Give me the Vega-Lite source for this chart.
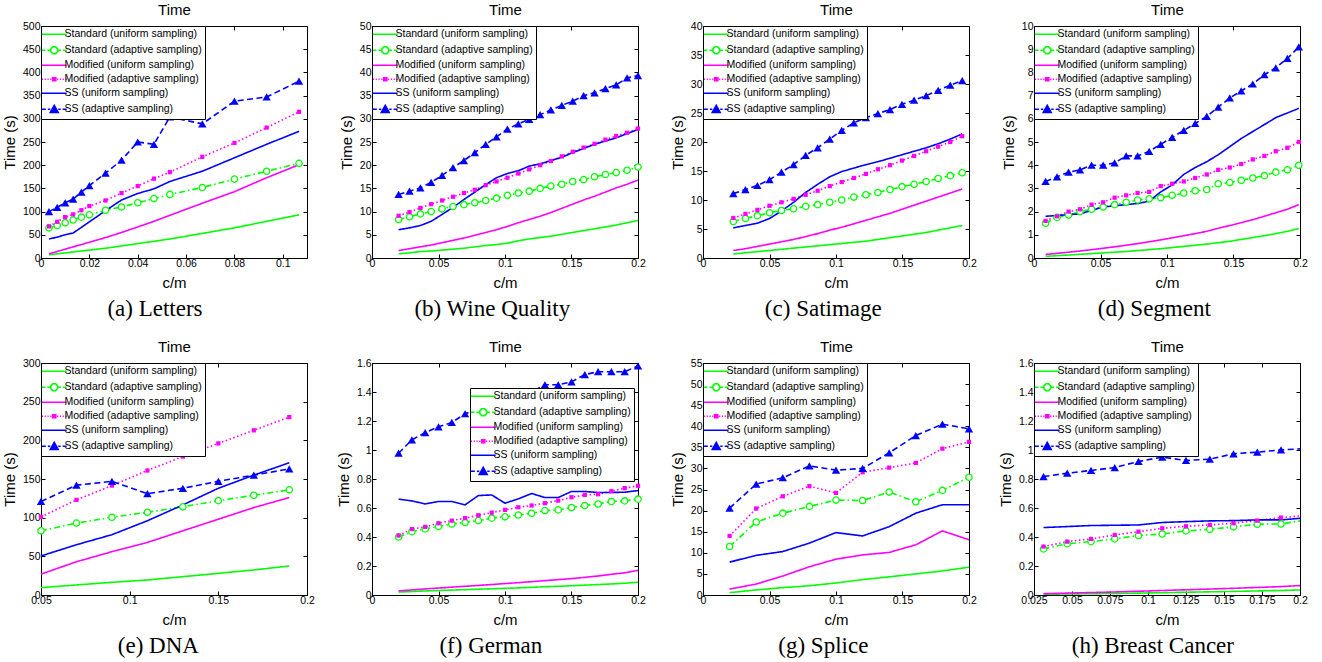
{
"$schema":"https://vega.github.io/schema/vega-lite/v6.json",
"background":"white",
"padding":{"left":1,"top":2,"right":0,"bottom":0},
"columns":4,
"spacing":{"row":105,"column":65},
"bounds":"flush",
"resolve":{"scale":{"color":"independent","shape":"independent","stroke":"independent","strokeDash":"independent"},"legend":{"color":"independent","shape":"independent","stroke":"independent","strokeDash":"independent"}},
"datasets":{
"a":[
{"x":0.0033,"y":7,"s":"SU"},{"x":0.0067,"y":9,"s":"SU"},{"x":0.01,"y":11,"s":"SU"},{"x":0.0133,"y":13,"s":"SU"},{"x":0.0167,"y":15,"s":"SU"},{"x":0.02,"y":17,"s":"SU"},{"x":0.0267,"y":21,"s":"SU"},{"x":0.0333,"y":26,"s":"SU"},{"x":0.04,"y":31,"s":"SU"},{"x":0.0467,"y":36,"s":"SU"},{"x":0.0533,"y":41,"s":"SU"},{"x":0.0667,"y":53,"s":"SU"},{"x":0.08,"y":65,"s":"SU"},{"x":0.0933,"y":79,"s":"SU"},{"x":0.1067,"y":93,"s":"SU"},
{"x":0.0033,"y":65,"s":"SA"},{"x":0.0067,"y":70,"s":"SA"},{"x":0.01,"y":76,"s":"SA"},{"x":0.0133,"y":82,"s":"SA"},{"x":0.0167,"y":88,"s":"SA"},{"x":0.02,"y":93,"s":"SA"},{"x":0.0267,"y":103,"s":"SA"},{"x":0.0333,"y":110,"s":"SA"},{"x":0.04,"y":119,"s":"SA"},{"x":0.0467,"y":128,"s":"SA"},{"x":0.0533,"y":137,"s":"SA"},{"x":0.0667,"y":152,"s":"SA"},{"x":0.08,"y":170,"s":"SA"},{"x":0.0933,"y":187,"s":"SA"},{"x":0.1067,"y":204,"s":"SA"},
{"x":0.0033,"y":9,"s":"MU"},{"x":0.0067,"y":14,"s":"MU"},{"x":0.01,"y":19,"s":"MU"},{"x":0.0133,"y":24,"s":"MU"},{"x":0.0167,"y":29,"s":"MU"},{"x":0.02,"y":34,"s":"MU"},{"x":0.0267,"y":44,"s":"MU"},{"x":0.0333,"y":55,"s":"MU"},{"x":0.04,"y":67,"s":"MU"},{"x":0.0467,"y":79,"s":"MU"},{"x":0.0533,"y":92,"s":"MU"},{"x":0.0667,"y":118,"s":"MU"},{"x":0.08,"y":143,"s":"MU"},{"x":0.0933,"y":173,"s":"MU"},{"x":0.1067,"y":201,"s":"MU"},
{"x":0.0033,"y":68,"s":"MA"},{"x":0.0067,"y":78,"s":"MA"},{"x":0.01,"y":88,"s":"MA"},{"x":0.0133,"y":94,"s":"MA"},{"x":0.0167,"y":103,"s":"MA"},{"x":0.02,"y":112,"s":"MA"},{"x":0.0267,"y":124,"s":"MA"},{"x":0.0333,"y":140,"s":"MA"},{"x":0.04,"y":155,"s":"MA"},{"x":0.0467,"y":171,"s":"MA"},{"x":0.0533,"y":185,"s":"MA"},{"x":0.0667,"y":218,"s":"MA"},{"x":0.08,"y":248,"s":"MA"},{"x":0.0933,"y":281,"s":"MA"},{"x":0.1067,"y":315,"s":"MA"},
{"x":0.0033,"y":41,"s":"SSU"},{"x":0.0067,"y":45,"s":"SSU"},{"x":0.01,"y":50,"s":"SSU"},{"x":0.0133,"y":54,"s":"SSU"},{"x":0.0167,"y":66,"s":"SSU"},{"x":0.02,"y":78,"s":"SSU"},{"x":0.0267,"y":102,"s":"SSU"},{"x":0.0333,"y":125,"s":"SSU"},{"x":0.04,"y":139,"s":"SSU"},{"x":0.0467,"y":149,"s":"SSU"},{"x":0.0533,"y":165,"s":"SSU"},{"x":0.0667,"y":187,"s":"SSU"},{"x":0.08,"y":216,"s":"SSU"},{"x":0.0933,"y":245,"s":"SSU"},{"x":0.1067,"y":273,"s":"SSU"},
{"x":0.0033,"y":100,"s":"SSA"},{"x":0.0067,"y":109,"s":"SSA"},{"x":0.01,"y":119,"s":"SSA"},{"x":0.0133,"y":127,"s":"SSA"},{"x":0.0167,"y":142,"s":"SSA"},{"x":0.02,"y":156,"s":"SSA"},{"x":0.0267,"y":183,"s":"SSA"},{"x":0.0333,"y":211,"s":"SSA"},{"x":0.04,"y":250,"s":"SSA"},{"x":0.0467,"y":245,"s":"SSA"},{"x":0.0533,"y":304,"s":"SSA"},{"x":0.0667,"y":289,"s":"SSA"},{"x":0.08,"y":338,"s":"SSA"},{"x":0.0933,"y":347,"s":"SSA"},{"x":0.1067,"y":381,"s":"SSA"}
],
"b":[
{"x":0.02,"y":0.9,"s":"SU"},{"x":0.0282,"y":1.1,"s":"SU"},{"x":0.0364,"y":1.4,"s":"SU"},{"x":0.0445,"y":1.5,"s":"SU"},{"x":0.0527,"y":1.7,"s":"SU"},{"x":0.0609,"y":1.9,"s":"SU"},{"x":0.0691,"y":2.1,"s":"SU"},{"x":0.0773,"y":2.4,"s":"SU"},{"x":0.0855,"y":2.7,"s":"SU"},{"x":0.0936,"y":2.9,"s":"SU"},{"x":0.1018,"y":3.2,"s":"SU"},{"x":0.11,"y":3.7,"s":"SU"},{"x":0.1182,"y":4.1,"s":"SU"},{"x":0.1264,"y":4.4,"s":"SU"},{"x":0.1345,"y":4.7,"s":"SU"},{"x":0.1427,"y":5.1,"s":"SU"},{"x":0.1509,"y":5.5,"s":"SU"},{"x":0.1591,"y":5.9,"s":"SU"},{"x":0.1673,"y":6.3,"s":"SU"},{"x":0.1755,"y":6.7,"s":"SU"},{"x":0.1836,"y":7.1,"s":"SU"},{"x":0.1918,"y":7.6,"s":"SU"},{"x":0.2,"y":8.1,"s":"SU"},
{"x":0.02,"y":8.3,"s":"SA"},{"x":0.0282,"y":8.9,"s":"SA"},{"x":0.0364,"y":9.5,"s":"SA"},{"x":0.0445,"y":10.0,"s":"SA"},{"x":0.0527,"y":10.6,"s":"SA"},{"x":0.0609,"y":11.1,"s":"SA"},{"x":0.0691,"y":11.5,"s":"SA"},{"x":0.0773,"y":11.9,"s":"SA"},{"x":0.0855,"y":12.4,"s":"SA"},{"x":0.0936,"y":12.9,"s":"SA"},{"x":0.1018,"y":13.5,"s":"SA"},{"x":0.11,"y":14.0,"s":"SA"},{"x":0.1182,"y":14.4,"s":"SA"},{"x":0.1264,"y":15.0,"s":"SA"},{"x":0.1345,"y":15.5,"s":"SA"},{"x":0.1427,"y":15.9,"s":"SA"},{"x":0.1509,"y":16.5,"s":"SA"},{"x":0.1591,"y":16.9,"s":"SA"},{"x":0.1673,"y":17.5,"s":"SA"},{"x":0.1755,"y":18.0,"s":"SA"},{"x":0.1836,"y":18.4,"s":"SA"},{"x":0.1918,"y":18.9,"s":"SA"},{"x":0.2,"y":19.6,"s":"SA"},
{"x":0.02,"y":1.6,"s":"MU"},{"x":0.0282,"y":2.0,"s":"MU"},{"x":0.0364,"y":2.4,"s":"MU"},{"x":0.0445,"y":2.8,"s":"MU"},{"x":0.0527,"y":3.3,"s":"MU"},{"x":0.0609,"y":3.8,"s":"MU"},{"x":0.0691,"y":4.3,"s":"MU"},{"x":0.0773,"y":4.9,"s":"MU"},{"x":0.0855,"y":5.5,"s":"MU"},{"x":0.0936,"y":6.1,"s":"MU"},{"x":0.1018,"y":6.8,"s":"MU"},{"x":0.11,"y":7.6,"s":"MU"},{"x":0.1182,"y":8.3,"s":"MU"},{"x":0.1264,"y":9.0,"s":"MU"},{"x":0.1345,"y":9.8,"s":"MU"},{"x":0.1427,"y":10.7,"s":"MU"},{"x":0.1509,"y":11.6,"s":"MU"},{"x":0.1591,"y":12.5,"s":"MU"},{"x":0.1673,"y":13.3,"s":"MU"},{"x":0.1755,"y":14.2,"s":"MU"},{"x":0.1836,"y":15.1,"s":"MU"},{"x":0.1918,"y":15.9,"s":"MU"},{"x":0.2,"y":16.8,"s":"MU"},
{"x":0.02,"y":9.1,"s":"MA"},{"x":0.0282,"y":9.9,"s":"MA"},{"x":0.0364,"y":10.8,"s":"MA"},{"x":0.0445,"y":11.6,"s":"MA"},{"x":0.0527,"y":12.4,"s":"MA"},{"x":0.0609,"y":13.2,"s":"MA"},{"x":0.0691,"y":14.0,"s":"MA"},{"x":0.0773,"y":14.7,"s":"MA"},{"x":0.0855,"y":15.7,"s":"MA"},{"x":0.0936,"y":16.5,"s":"MA"},{"x":0.1018,"y":17.3,"s":"MA"},{"x":0.11,"y":18.2,"s":"MA"},{"x":0.1182,"y":19.1,"s":"MA"},{"x":0.1264,"y":20.0,"s":"MA"},{"x":0.1345,"y":20.9,"s":"MA"},{"x":0.1427,"y":21.9,"s":"MA"},{"x":0.1509,"y":22.9,"s":"MA"},{"x":0.1591,"y":23.8,"s":"MA"},{"x":0.1673,"y":24.6,"s":"MA"},{"x":0.1755,"y":25.5,"s":"MA"},{"x":0.1836,"y":26.3,"s":"MA"},{"x":0.1918,"y":27.0,"s":"MA"},{"x":0.2,"y":27.9,"s":"MA"},
{"x":0.02,"y":6.1,"s":"SSU"},{"x":0.0282,"y":6.5,"s":"SSU"},{"x":0.0364,"y":7.0,"s":"SSU"},{"x":0.0445,"y":7.9,"s":"SSU"},{"x":0.0527,"y":9.4,"s":"SSU"},{"x":0.0609,"y":10.9,"s":"SSU"},{"x":0.0691,"y":12.6,"s":"SSU"},{"x":0.0773,"y":14.2,"s":"SSU"},{"x":0.0855,"y":15.8,"s":"SSU"},{"x":0.0936,"y":17.3,"s":"SSU"},{"x":0.1018,"y":18.2,"s":"SSU"},{"x":0.11,"y":18.8,"s":"SSU"},{"x":0.1182,"y":19.8,"s":"SSU"},{"x":0.1264,"y":20.3,"s":"SSU"},{"x":0.1345,"y":21.0,"s":"SSU"},{"x":0.1427,"y":21.7,"s":"SSU"},{"x":0.1509,"y":22.7,"s":"SSU"},{"x":0.1591,"y":23.6,"s":"SSU"},{"x":0.1673,"y":24.5,"s":"SSU"},{"x":0.1755,"y":25.2,"s":"SSU"},{"x":0.1836,"y":25.9,"s":"SSU"},{"x":0.1918,"y":26.8,"s":"SSU"},{"x":0.2,"y":27.7,"s":"SSU"},
{"x":0.02,"y":13.7,"s":"SSA"},{"x":0.0282,"y":14.4,"s":"SSA"},{"x":0.0364,"y":15.1,"s":"SSA"},{"x":0.0445,"y":16.3,"s":"SSA"},{"x":0.0527,"y":17.8,"s":"SSA"},{"x":0.0609,"y":19.5,"s":"SSA"},{"x":0.0691,"y":21.0,"s":"SSA"},{"x":0.0773,"y":22.7,"s":"SSA"},{"x":0.0855,"y":24.5,"s":"SSA"},{"x":0.0936,"y":26.1,"s":"SSA"},{"x":0.1018,"y":27.8,"s":"SSA"},{"x":0.11,"y":28.9,"s":"SSA"},{"x":0.1182,"y":29.9,"s":"SSA"},{"x":0.1264,"y":30.9,"s":"SSA"},{"x":0.1345,"y":31.9,"s":"SSA"},{"x":0.1427,"y":32.9,"s":"SSA"},{"x":0.1509,"y":33.8,"s":"SSA"},{"x":0.1591,"y":35.0,"s":"SSA"},{"x":0.1673,"y":35.6,"s":"SSA"},{"x":0.1755,"y":36.5,"s":"SSA"},{"x":0.1836,"y":37.3,"s":"SSA"},{"x":0.1918,"y":38.8,"s":"SSA"},{"x":0.2,"y":39.3,"s":"SSA"}
],
"c":[
{"x":0.0228,"y":0.7,"s":"SU"},{"x":0.0319,"y":0.9,"s":"SU"},{"x":0.0409,"y":1.1,"s":"SU"},{"x":0.05,"y":1.3,"s":"SU"},{"x":0.059,"y":1.5,"s":"SU"},{"x":0.0681,"y":1.7,"s":"SU"},{"x":0.0772,"y":1.9,"s":"SU"},{"x":0.0862,"y":2.1,"s":"SU"},{"x":0.0953,"y":2.3,"s":"SU"},{"x":0.1043,"y":2.5,"s":"SU"},{"x":0.1134,"y":2.7,"s":"SU"},{"x":0.1225,"y":2.9,"s":"SU"},{"x":0.1315,"y":3.2,"s":"SU"},{"x":0.1406,"y":3.5,"s":"SU"},{"x":0.1496,"y":3.8,"s":"SU"},{"x":0.1587,"y":4.1,"s":"SU"},{"x":0.1678,"y":4.4,"s":"SU"},{"x":0.1768,"y":4.8,"s":"SU"},{"x":0.1859,"y":5.2,"s":"SU"},{"x":0.1949,"y":5.6,"s":"SU"},
{"x":0.0228,"y":6.3,"s":"SA"},{"x":0.0319,"y":6.8,"s":"SA"},{"x":0.0409,"y":7.3,"s":"SA"},{"x":0.05,"y":7.8,"s":"SA"},{"x":0.059,"y":8.2,"s":"SA"},{"x":0.0681,"y":8.5,"s":"SA"},{"x":0.0772,"y":8.9,"s":"SA"},{"x":0.0862,"y":9.2,"s":"SA"},{"x":0.0953,"y":9.6,"s":"SA"},{"x":0.1043,"y":10.0,"s":"SA"},{"x":0.1134,"y":10.5,"s":"SA"},{"x":0.1225,"y":10.9,"s":"SA"},{"x":0.1315,"y":11.3,"s":"SA"},{"x":0.1406,"y":11.8,"s":"SA"},{"x":0.1496,"y":12.3,"s":"SA"},{"x":0.1587,"y":12.7,"s":"SA"},{"x":0.1678,"y":13.2,"s":"SA"},{"x":0.1768,"y":13.7,"s":"SA"},{"x":0.1859,"y":14.2,"s":"SA"},{"x":0.1949,"y":14.7,"s":"SA"},
{"x":0.0228,"y":1.3,"s":"MU"},{"x":0.0319,"y":1.6,"s":"MU"},{"x":0.0409,"y":2.0,"s":"MU"},{"x":0.05,"y":2.4,"s":"MU"},{"x":0.059,"y":2.8,"s":"MU"},{"x":0.0681,"y":3.2,"s":"MU"},{"x":0.0772,"y":3.7,"s":"MU"},{"x":0.0862,"y":4.2,"s":"MU"},{"x":0.0953,"y":4.8,"s":"MU"},{"x":0.1043,"y":5.3,"s":"MU"},{"x":0.1134,"y":5.9,"s":"MU"},{"x":0.1225,"y":6.5,"s":"MU"},{"x":0.1315,"y":7.1,"s":"MU"},{"x":0.1406,"y":7.7,"s":"MU"},{"x":0.1496,"y":8.4,"s":"MU"},{"x":0.1587,"y":9.1,"s":"MU"},{"x":0.1678,"y":9.8,"s":"MU"},{"x":0.1768,"y":10.5,"s":"MU"},{"x":0.1859,"y":11.2,"s":"MU"},{"x":0.1949,"y":11.9,"s":"MU"},
{"x":0.0228,"y":6.9,"s":"MA"},{"x":0.0319,"y":7.6,"s":"MA"},{"x":0.0409,"y":8.3,"s":"MA"},{"x":0.05,"y":9.0,"s":"MA"},{"x":0.059,"y":9.6,"s":"MA"},{"x":0.0681,"y":10.2,"s":"MA"},{"x":0.0772,"y":10.9,"s":"MA"},{"x":0.0862,"y":11.6,"s":"MA"},{"x":0.0953,"y":12.4,"s":"MA"},{"x":0.1043,"y":13.1,"s":"MA"},{"x":0.1134,"y":13.8,"s":"MA"},{"x":0.1225,"y":14.5,"s":"MA"},{"x":0.1315,"y":15.3,"s":"MA"},{"x":0.1406,"y":16.0,"s":"MA"},{"x":0.1496,"y":16.8,"s":"MA"},{"x":0.1587,"y":17.6,"s":"MA"},{"x":0.1678,"y":18.4,"s":"MA"},{"x":0.1768,"y":19.2,"s":"MA"},{"x":0.1859,"y":20.0,"s":"MA"},{"x":0.1949,"y":21.0,"s":"MA"},
{"x":0.0228,"y":5.2,"s":"SSU"},{"x":0.0319,"y":5.6,"s":"SSU"},{"x":0.0409,"y":6.0,"s":"SSU"},{"x":0.05,"y":6.8,"s":"SSU"},{"x":0.059,"y":8.1,"s":"SSU"},{"x":0.0681,"y":9.6,"s":"SSU"},{"x":0.0772,"y":11.3,"s":"SSU"},{"x":0.0862,"y":12.7,"s":"SSU"},{"x":0.0953,"y":14.0,"s":"SSU"},{"x":0.1043,"y":14.9,"s":"SSU"},{"x":0.1134,"y":15.5,"s":"SSU"},{"x":0.1225,"y":16.1,"s":"SSU"},{"x":0.1315,"y":16.6,"s":"SSU"},{"x":0.1406,"y":17.2,"s":"SSU"},{"x":0.1496,"y":17.8,"s":"SSU"},{"x":0.1587,"y":18.4,"s":"SSU"},{"x":0.1678,"y":19.0,"s":"SSU"},{"x":0.1768,"y":19.7,"s":"SSU"},{"x":0.1859,"y":20.5,"s":"SSU"},{"x":0.1949,"y":21.4,"s":"SSU"},
{"x":0.0228,"y":11.1,"s":"SSA"},{"x":0.0319,"y":11.8,"s":"SSA"},{"x":0.0409,"y":12.5,"s":"SSA"},{"x":0.05,"y":13.5,"s":"SSA"},{"x":0.059,"y":14.8,"s":"SSA"},{"x":0.0681,"y":16.1,"s":"SSA"},{"x":0.0772,"y":17.7,"s":"SSA"},{"x":0.0862,"y":19.0,"s":"SSA"},{"x":0.0953,"y":20.5,"s":"SSA"},{"x":0.1043,"y":22.0,"s":"SSA"},{"x":0.1134,"y":23.3,"s":"SSA"},{"x":0.1225,"y":24.2,"s":"SSA"},{"x":0.1315,"y":24.9,"s":"SSA"},{"x":0.1406,"y":25.6,"s":"SSA"},{"x":0.1496,"y":26.5,"s":"SSA"},{"x":0.1587,"y":27.2,"s":"SSA"},{"x":0.1678,"y":28.0,"s":"SSA"},{"x":0.1768,"y":28.9,"s":"SSA"},{"x":0.1859,"y":29.8,"s":"SSA"},{"x":0.1949,"y":30.6,"s":"SSA"}
],
"d":[
{"x":0.0087,"y":0.07,"s":"SU"},{"x":0.0173,"y":0.1,"s":"SU"},{"x":0.026,"y":0.13,"s":"SU"},{"x":0.0346,"y":0.16,"s":"SU"},{"x":0.0433,"y":0.19,"s":"SU"},{"x":0.052,"y":0.22,"s":"SU"},{"x":0.0606,"y":0.25,"s":"SU"},{"x":0.0693,"y":0.28,"s":"SU"},{"x":0.0779,"y":0.32,"s":"SU"},{"x":0.0866,"y":0.36,"s":"SU"},{"x":0.0953,"y":0.4,"s":"SU"},{"x":0.1039,"y":0.45,"s":"SU"},{"x":0.1126,"y":0.5,"s":"SU"},{"x":0.1212,"y":0.55,"s":"SU"},{"x":0.1299,"y":0.6,"s":"SU"},{"x":0.1385,"y":0.66,"s":"SU"},{"x":0.1472,"y":0.72,"s":"SU"},{"x":0.1558,"y":0.8,"s":"SU"},{"x":0.1645,"y":0.88,"s":"SU"},{"x":0.1732,"y":0.96,"s":"SU"},{"x":0.1818,"y":1.05,"s":"SU"},{"x":0.1905,"y":1.15,"s":"SU"},{"x":0.1991,"y":1.27,"s":"SU"},
{"x":0.0087,"y":1.5,"s":"SA"},{"x":0.0173,"y":1.75,"s":"SA"},{"x":0.026,"y":1.85,"s":"SA"},{"x":0.0346,"y":2.0,"s":"SA"},{"x":0.0433,"y":2.1,"s":"SA"},{"x":0.052,"y":2.2,"s":"SA"},{"x":0.0606,"y":2.3,"s":"SA"},{"x":0.0693,"y":2.4,"s":"SA"},{"x":0.0779,"y":2.5,"s":"SA"},{"x":0.0866,"y":2.55,"s":"SA"},{"x":0.0953,"y":2.6,"s":"SA"},{"x":0.1039,"y":2.7,"s":"SA"},{"x":0.1126,"y":2.8,"s":"SA"},{"x":0.1212,"y":2.9,"s":"SA"},{"x":0.1299,"y":2.95,"s":"SA"},{"x":0.1385,"y":3.2,"s":"SA"},{"x":0.1472,"y":3.25,"s":"SA"},{"x":0.1558,"y":3.35,"s":"SA"},{"x":0.1645,"y":3.45,"s":"SA"},{"x":0.1732,"y":3.55,"s":"SA"},{"x":0.1818,"y":3.7,"s":"SA"},{"x":0.1905,"y":3.8,"s":"SA"},{"x":0.1991,"y":4.0,"s":"SA"},
{"x":0.0087,"y":0.15,"s":"MU"},{"x":0.0173,"y":0.2,"s":"MU"},{"x":0.026,"y":0.25,"s":"MU"},{"x":0.0346,"y":0.3,"s":"MU"},{"x":0.0433,"y":0.36,"s":"MU"},{"x":0.052,"y":0.42,"s":"MU"},{"x":0.0606,"y":0.48,"s":"MU"},{"x":0.0693,"y":0.55,"s":"MU"},{"x":0.0779,"y":0.62,"s":"MU"},{"x":0.0866,"y":0.7,"s":"MU"},{"x":0.0953,"y":0.78,"s":"MU"},{"x":0.1039,"y":0.87,"s":"MU"},{"x":0.1126,"y":0.96,"s":"MU"},{"x":0.1212,"y":1.05,"s":"MU"},{"x":0.1299,"y":1.15,"s":"MU"},{"x":0.1385,"y":1.28,"s":"MU"},{"x":0.1472,"y":1.4,"s":"MU"},{"x":0.1558,"y":1.52,"s":"MU"},{"x":0.1645,"y":1.65,"s":"MU"},{"x":0.1732,"y":1.8,"s":"MU"},{"x":0.1818,"y":1.95,"s":"MU"},{"x":0.1905,"y":2.1,"s":"MU"},{"x":0.1991,"y":2.3,"s":"MU"},
{"x":0.0087,"y":1.6,"s":"MA"},{"x":0.0173,"y":1.8,"s":"MA"},{"x":0.026,"y":2.0,"s":"MA"},{"x":0.0346,"y":2.1,"s":"MA"},{"x":0.0433,"y":2.3,"s":"MA"},{"x":0.052,"y":2.4,"s":"MA"},{"x":0.0606,"y":2.6,"s":"MA"},{"x":0.0693,"y":2.7,"s":"MA"},{"x":0.0779,"y":2.8,"s":"MA"},{"x":0.0866,"y":2.85,"s":"MA"},{"x":0.0953,"y":3.1,"s":"MA"},{"x":0.1039,"y":3.2,"s":"MA"},{"x":0.1126,"y":3.3,"s":"MA"},{"x":0.1212,"y":3.45,"s":"MA"},{"x":0.1299,"y":3.6,"s":"MA"},{"x":0.1385,"y":3.8,"s":"MA"},{"x":0.1472,"y":3.9,"s":"MA"},{"x":0.1558,"y":4.05,"s":"MA"},{"x":0.1645,"y":4.25,"s":"MA"},{"x":0.1732,"y":4.4,"s":"MA"},{"x":0.1818,"y":4.6,"s":"MA"},{"x":0.1905,"y":4.75,"s":"MA"},{"x":0.1991,"y":5.0,"s":"MA"},
{"x":0.0087,"y":1.8,"s":"SSU"},{"x":0.0173,"y":1.83,"s":"SSU"},{"x":0.026,"y":1.87,"s":"SSU"},{"x":0.0346,"y":1.9,"s":"SSU"},{"x":0.0433,"y":2.05,"s":"SSU"},{"x":0.052,"y":2.2,"s":"SSU"},{"x":0.0606,"y":2.25,"s":"SSU"},{"x":0.0693,"y":2.3,"s":"SSU"},{"x":0.0779,"y":2.35,"s":"SSU"},{"x":0.0866,"y":2.45,"s":"SSU"},{"x":0.0953,"y":2.85,"s":"SSU"},{"x":0.1039,"y":3.15,"s":"SSU"},{"x":0.1126,"y":3.6,"s":"SSU"},{"x":0.1212,"y":3.9,"s":"SSU"},{"x":0.1299,"y":4.15,"s":"SSU"},{"x":0.1385,"y":4.45,"s":"SSU"},{"x":0.1472,"y":4.8,"s":"SSU"},{"x":0.1558,"y":5.15,"s":"SSU"},{"x":0.1645,"y":5.45,"s":"SSU"},{"x":0.1732,"y":5.75,"s":"SSU"},{"x":0.1818,"y":6.05,"s":"SSU"},{"x":0.1905,"y":6.25,"s":"SSU"},{"x":0.1991,"y":6.45,"s":"SSU"},
{"x":0.0087,"y":3.3,"s":"SSA"},{"x":0.0173,"y":3.5,"s":"SSA"},{"x":0.026,"y":3.7,"s":"SSA"},{"x":0.0346,"y":3.8,"s":"SSA"},{"x":0.0433,"y":4.0,"s":"SSA"},{"x":0.052,"y":4.0,"s":"SSA"},{"x":0.0606,"y":4.1,"s":"SSA"},{"x":0.0693,"y":4.4,"s":"SSA"},{"x":0.0779,"y":4.4,"s":"SSA"},{"x":0.0866,"y":4.6,"s":"SSA"},{"x":0.0953,"y":4.9,"s":"SSA"},{"x":0.1039,"y":5.2,"s":"SSA"},{"x":0.1126,"y":5.5,"s":"SSA"},{"x":0.1212,"y":5.8,"s":"SSA"},{"x":0.1299,"y":6.1,"s":"SSA"},{"x":0.1385,"y":6.5,"s":"SSA"},{"x":0.1472,"y":6.9,"s":"SSA"},{"x":0.1558,"y":7.2,"s":"SSA"},{"x":0.1645,"y":7.5,"s":"SSA"},{"x":0.1732,"y":7.9,"s":"SSA"},{"x":0.1818,"y":8.2,"s":"SSA"},{"x":0.1905,"y":8.6,"s":"SSA"},{"x":0.1991,"y":9.1,"s":"SSA"}
],
"e":[
{"x":0.05,"y":9.5,"s":"SU"},{"x":0.07,"y":13,"s":"SU"},{"x":0.09,"y":16.4,"s":"SU"},{"x":0.11,"y":19.4,"s":"SU"},{"x":0.13,"y":23.7,"s":"SU"},{"x":0.15,"y":28,"s":"SU"},{"x":0.17,"y":32.4,"s":"SU"},{"x":0.19,"y":37.5,"s":"SU"},
{"x":0.05,"y":83,"s":"SA"},{"x":0.07,"y":93,"s":"SA"},{"x":0.09,"y":100.5,"s":"SA"},{"x":0.11,"y":107,"s":"SA"},{"x":0.13,"y":114,"s":"SA"},{"x":0.15,"y":122,"s":"SA"},{"x":0.17,"y":129,"s":"SA"},{"x":0.19,"y":136,"s":"SA"},
{"x":0.05,"y":27,"s":"MU"},{"x":0.07,"y":43,"s":"MU"},{"x":0.09,"y":56,"s":"MU"},{"x":0.11,"y":68,"s":"MU"},{"x":0.13,"y":83,"s":"MU"},{"x":0.15,"y":98,"s":"MU"},{"x":0.17,"y":113,"s":"MU"},{"x":0.19,"y":126,"s":"MU"},
{"x":0.05,"y":101,"s":"MA"},{"x":0.07,"y":123,"s":"MA"},{"x":0.09,"y":141.5,"s":"MA"},{"x":0.11,"y":161,"s":"MA"},{"x":0.13,"y":179,"s":"MA"},{"x":0.15,"y":196,"s":"MA"},{"x":0.17,"y":213,"s":"MA"},{"x":0.19,"y":230,"s":"MA"},
{"x":0.05,"y":50.5,"s":"SSU"},{"x":0.07,"y":65,"s":"SSU"},{"x":0.09,"y":78,"s":"SSU"},{"x":0.11,"y":96,"s":"SSU"},{"x":0.13,"y":116.5,"s":"SSU"},{"x":0.15,"y":138,"s":"SSU"},{"x":0.17,"y":155,"s":"SSU"},{"x":0.19,"y":171,"s":"SSU"},
{"x":0.05,"y":121,"s":"SSA"},{"x":0.07,"y":142,"s":"SSA"},{"x":0.09,"y":147,"s":"SSA"},{"x":0.11,"y":131,"s":"SSA"},{"x":0.13,"y":138,"s":"SSA"},{"x":0.15,"y":147,"s":"SSA"},{"x":0.17,"y":155,"s":"SSA"},{"x":0.19,"y":163,"s":"SSA"}
],
"f":[
{"x":0.02,"y":0.02,"s":"SU"},{"x":0.03,"y":0.024,"s":"SU"},{"x":0.04,"y":0.028,"s":"SU"},{"x":0.05,"y":0.031,"s":"SU"},{"x":0.06,"y":0.034,"s":"SU"},{"x":0.07,"y":0.037,"s":"SU"},{"x":0.08,"y":0.04,"s":"SU"},{"x":0.09,"y":0.043,"s":"SU"},{"x":0.1,"y":0.046,"s":"SU"},{"x":0.11,"y":0.049,"s":"SU"},{"x":0.12,"y":0.053,"s":"SU"},{"x":0.13,"y":0.057,"s":"SU"},{"x":0.14,"y":0.06,"s":"SU"},{"x":0.15,"y":0.064,"s":"SU"},{"x":0.16,"y":0.068,"s":"SU"},{"x":0.17,"y":0.072,"s":"SU"},{"x":0.18,"y":0.076,"s":"SU"},{"x":0.19,"y":0.081,"s":"SU"},{"x":0.2,"y":0.088,"s":"SU"},
{"x":0.02,"y":0.4,"s":"SA"},{"x":0.03,"y":0.437,"s":"SA"},{"x":0.04,"y":0.456,"s":"SA"},{"x":0.05,"y":0.472,"s":"SA"},{"x":0.06,"y":0.49,"s":"SA"},{"x":0.07,"y":0.5,"s":"SA"},{"x":0.08,"y":0.513,"s":"SA"},{"x":0.09,"y":0.53,"s":"SA"},{"x":0.1,"y":0.539,"s":"SA"},{"x":0.11,"y":0.552,"s":"SA"},{"x":0.12,"y":0.564,"s":"SA"},{"x":0.13,"y":0.582,"s":"SA"},{"x":0.14,"y":0.587,"s":"SA"},{"x":0.15,"y":0.603,"s":"SA"},{"x":0.16,"y":0.617,"s":"SA"},{"x":0.17,"y":0.628,"s":"SA"},{"x":0.18,"y":0.645,"s":"SA"},{"x":0.19,"y":0.649,"s":"SA"},{"x":0.2,"y":0.661,"s":"SA"},
{"x":0.02,"y":0.028,"s":"MU"},{"x":0.03,"y":0.035,"s":"MU"},{"x":0.04,"y":0.042,"s":"MU"},{"x":0.05,"y":0.048,"s":"MU"},{"x":0.06,"y":0.054,"s":"MU"},{"x":0.07,"y":0.06,"s":"MU"},{"x":0.08,"y":0.066,"s":"MU"},{"x":0.09,"y":0.072,"s":"MU"},{"x":0.1,"y":0.079,"s":"MU"},{"x":0.11,"y":0.085,"s":"MU"},{"x":0.12,"y":0.092,"s":"MU"},{"x":0.13,"y":0.099,"s":"MU"},{"x":0.14,"y":0.106,"s":"MU"},{"x":0.15,"y":0.113,"s":"MU"},{"x":0.16,"y":0.122,"s":"MU"},{"x":0.17,"y":0.131,"s":"MU"},{"x":0.18,"y":0.143,"s":"MU"},{"x":0.19,"y":0.153,"s":"MU"},{"x":0.2,"y":0.17,"s":"MU"},
{"x":0.02,"y":0.41,"s":"MA"},{"x":0.03,"y":0.455,"s":"MA"},{"x":0.04,"y":0.47,"s":"MA"},{"x":0.05,"y":0.495,"s":"MA"},{"x":0.06,"y":0.513,"s":"MA"},{"x":0.07,"y":0.53,"s":"MA"},{"x":0.08,"y":0.55,"s":"MA"},{"x":0.09,"y":0.568,"s":"MA"},{"x":0.1,"y":0.587,"s":"MA"},{"x":0.11,"y":0.605,"s":"MA"},{"x":0.12,"y":0.617,"s":"MA"},{"x":0.13,"y":0.633,"s":"MA"},{"x":0.14,"y":0.651,"s":"MA"},{"x":0.15,"y":0.674,"s":"MA"},{"x":0.16,"y":0.69,"s":"MA"},{"x":0.17,"y":0.695,"s":"MA"},{"x":0.18,"y":0.716,"s":"MA"},{"x":0.19,"y":0.737,"s":"MA"},{"x":0.2,"y":0.753,"s":"MA"},
{"x":0.02,"y":0.661,"s":"SSU"},{"x":0.03,"y":0.649,"s":"SSU"},{"x":0.04,"y":0.628,"s":"SSU"},{"x":0.05,"y":0.645,"s":"SSU"},{"x":0.06,"y":0.645,"s":"SSU"},{"x":0.07,"y":0.622,"s":"SSU"},{"x":0.08,"y":0.686,"s":"SSU"},{"x":0.09,"y":0.69,"s":"SSU"},{"x":0.1,"y":0.633,"s":"SSU"},{"x":0.11,"y":0.663,"s":"SSU"},{"x":0.12,"y":0.7,"s":"SSU"},{"x":0.13,"y":0.672,"s":"SSU"},{"x":0.14,"y":0.672,"s":"SSU"},{"x":0.15,"y":0.714,"s":"SSU"},{"x":0.16,"y":0.714,"s":"SSU"},{"x":0.17,"y":0.707,"s":"SSU"},{"x":0.18,"y":0.707,"s":"SSU"},{"x":0.19,"y":0.709,"s":"SSU"},{"x":0.2,"y":0.72,"s":"SSU"},
{"x":0.02,"y":0.978,"s":"SSA"},{"x":0.03,"y":1.07,"s":"SSA"},{"x":0.04,"y":1.12,"s":"SSA"},{"x":0.05,"y":1.16,"s":"SSA"},{"x":0.06,"y":1.19,"s":"SSA"},{"x":0.07,"y":1.25,"s":"SSA"},{"x":0.08,"y":1.28,"s":"SSA"},{"x":0.09,"y":1.31,"s":"SSA"},{"x":0.1,"y":1.35,"s":"SSA"},{"x":0.11,"y":1.38,"s":"SSA"},{"x":0.12,"y":1.4,"s":"SSA"},{"x":0.13,"y":1.45,"s":"SSA"},{"x":0.14,"y":1.45,"s":"SSA"},{"x":0.15,"y":1.47,"s":"SSA"},{"x":0.16,"y":1.52,"s":"SSA"},{"x":0.17,"y":1.54,"s":"SSA"},{"x":0.18,"y":1.54,"s":"SSA"},{"x":0.19,"y":1.54,"s":"SSA"},{"x":0.2,"y":1.58,"s":"SSA"}
],
"g":[
{"x":0.02,"y":0.55,"s":"SU"},{"x":0.04,"y":1.2,"s":"SU"},{"x":0.06,"y":1.75,"s":"SU"},{"x":0.08,"y":2.2,"s":"SU"},{"x":0.1,"y":2.85,"s":"SU"},{"x":0.12,"y":3.65,"s":"SU"},{"x":0.14,"y":4.3,"s":"SU"},{"x":0.16,"y":5.0,"s":"SU"},{"x":0.18,"y":5.7,"s":"SU"},{"x":0.2,"y":6.6,"s":"SU"},
{"x":0.02,"y":11.5,"s":"SA"},{"x":0.04,"y":17.3,"s":"SA"},{"x":0.06,"y":19.4,"s":"SA"},{"x":0.08,"y":21.0,"s":"SA"},{"x":0.1,"y":22.5,"s":"SA"},{"x":0.12,"y":22.4,"s":"SA"},{"x":0.14,"y":24.4,"s":"SA"},{"x":0.16,"y":22.1,"s":"SA"},{"x":0.18,"y":24.8,"s":"SA"},{"x":0.2,"y":27.9,"s":"SA"},
{"x":0.02,"y":1.4,"s":"MU"},{"x":0.04,"y":2.6,"s":"MU"},{"x":0.06,"y":4.5,"s":"MU"},{"x":0.08,"y":6.7,"s":"MU"},{"x":0.1,"y":8.5,"s":"MU"},{"x":0.12,"y":9.5,"s":"MU"},{"x":0.14,"y":10.1,"s":"MU"},{"x":0.16,"y":11.9,"s":"MU"},{"x":0.18,"y":15.2,"s":"MU"},{"x":0.2,"y":13.1,"s":"MU"},
{"x":0.02,"y":14.0,"s":"MA"},{"x":0.04,"y":20.5,"s":"MA"},{"x":0.06,"y":23.4,"s":"MA"},{"x":0.08,"y":25.8,"s":"MA"},{"x":0.1,"y":24.2,"s":"MA"},{"x":0.12,"y":29.1,"s":"MA"},{"x":0.14,"y":30.2,"s":"MA"},{"x":0.16,"y":31.3,"s":"MA"},{"x":0.18,"y":34.7,"s":"MA"},{"x":0.2,"y":36.3,"s":"MA"},
{"x":0.02,"y":7.8,"s":"SSU"},{"x":0.04,"y":9.4,"s":"SSU"},{"x":0.06,"y":10.3,"s":"SSU"},{"x":0.08,"y":12.3,"s":"SSU"},{"x":0.1,"y":14.8,"s":"SSU"},{"x":0.12,"y":14.0,"s":"SSU"},{"x":0.14,"y":16.2,"s":"SSU"},{"x":0.16,"y":19.4,"s":"SSU"},{"x":0.18,"y":21.4,"s":"SSU"},{"x":0.2,"y":21.4,"s":"SSU"},
{"x":0.02,"y":20.6,"s":"SSA"},{"x":0.04,"y":26.3,"s":"SSA"},{"x":0.06,"y":27.8,"s":"SSA"},{"x":0.08,"y":30.6,"s":"SSA"},{"x":0.1,"y":29.6,"s":"SSA"},{"x":0.12,"y":30.0,"s":"SSA"},{"x":0.14,"y":33.7,"s":"SSA"},{"x":0.16,"y":37.8,"s":"SSA"},{"x":0.18,"y":40.5,"s":"SSA"},{"x":0.2,"y":39.4,"s":"SSA"}
],
"h":[
{"x":0.03125,"y":0.005,"s":"SU"},{"x":0.046875,"y":0.007,"s":"SU"},{"x":0.0625,"y":0.009,"s":"SU"},{"x":0.078125,"y":0.011,"s":"SU"},{"x":0.09375,"y":0.013,"s":"SU"},{"x":0.109375,"y":0.016,"s":"SU"},{"x":0.125,"y":0.019,"s":"SU"},{"x":0.140625,"y":0.022,"s":"SU"},{"x":0.15625,"y":0.025,"s":"SU"},{"x":0.171875,"y":0.028,"s":"SU"},{"x":0.1875,"y":0.031,"s":"SU"},{"x":0.2,"y":0.035,"s":"SU"},
{"x":0.03125,"y":0.318,"s":"SA"},{"x":0.046875,"y":0.354,"s":"SA"},{"x":0.0625,"y":0.368,"s":"SA"},{"x":0.078125,"y":0.387,"s":"SA"},{"x":0.09375,"y":0.41,"s":"SA"},{"x":0.109375,"y":0.421,"s":"SA"},{"x":0.125,"y":0.442,"s":"SA"},{"x":0.140625,"y":0.453,"s":"SA"},{"x":0.15625,"y":0.47,"s":"SA"},{"x":0.171875,"y":0.488,"s":"SA"},{"x":0.1875,"y":0.49,"s":"SA"},{"x":0.2,"y":0.511,"s":"SA"},
{"x":0.03125,"y":0.009,"s":"MU"},{"x":0.046875,"y":0.013,"s":"MU"},{"x":0.0625,"y":0.017,"s":"MU"},{"x":0.078125,"y":0.021,"s":"MU"},{"x":0.09375,"y":0.026,"s":"MU"},{"x":0.109375,"y":0.031,"s":"MU"},{"x":0.125,"y":0.036,"s":"MU"},{"x":0.140625,"y":0.041,"s":"MU"},{"x":0.15625,"y":0.046,"s":"MU"},{"x":0.171875,"y":0.052,"s":"MU"},{"x":0.1875,"y":0.058,"s":"MU"},{"x":0.2,"y":0.065,"s":"MU"},
{"x":0.03125,"y":0.334,"s":"MA"},{"x":0.046875,"y":0.368,"s":"MA"},{"x":0.0625,"y":0.387,"s":"MA"},{"x":0.078125,"y":0.414,"s":"MA"},{"x":0.09375,"y":0.437,"s":"MA"},{"x":0.109375,"y":0.46,"s":"MA"},{"x":0.125,"y":0.474,"s":"MA"},{"x":0.140625,"y":0.483,"s":"MA"},{"x":0.15625,"y":0.495,"s":"MA"},{"x":0.171875,"y":0.513,"s":"MA"},{"x":0.1875,"y":0.534,"s":"MA"},{"x":0.2,"y":0.545,"s":"MA"},
{"x":0.03125,"y":0.465,"s":"SSU"},{"x":0.046875,"y":0.472,"s":"SSU"},{"x":0.0625,"y":0.479,"s":"SSU"},{"x":0.078125,"y":0.481,"s":"SSU"},{"x":0.09375,"y":0.483,"s":"SSU"},{"x":0.109375,"y":0.5,"s":"SSU"},{"x":0.125,"y":0.506,"s":"SSU"},{"x":0.140625,"y":0.511,"s":"SSU"},{"x":0.15625,"y":0.513,"s":"SSU"},{"x":0.171875,"y":0.518,"s":"SSU"},{"x":0.1875,"y":0.518,"s":"SSU"},{"x":0.2,"y":0.529,"s":"SSU"},
{"x":0.03125,"y":0.817,"s":"SSA"},{"x":0.046875,"y":0.84,"s":"SSA"},{"x":0.0625,"y":0.859,"s":"SSA"},{"x":0.078125,"y":0.879,"s":"SSA"},{"x":0.09375,"y":0.921,"s":"SSA"},{"x":0.109375,"y":0.951,"s":"SSA"},{"x":0.125,"y":0.928,"s":"SSA"},{"x":0.140625,"y":0.937,"s":"SSA"},{"x":0.15625,"y":0.974,"s":"SSA"},{"x":0.171875,"y":0.985,"s":"SSA"},{"x":0.1875,"y":1.001,"s":"SSA"},{"x":0.2,"y":1.008,"s":"SSA"}
]
},
"concat":[
{"data":{"name":"a"},"width":266,"height":232,"title":{"text":"(a) Letters"},
"layer":[
{"mark":{"type":"line","strokeWidth":1.6},"encoding":{
"x":{"field":"x","type":"quantitative","scale":{"domain":[0,0.11],"nice":false,"zero":false},"axis":{"orient":"bottom","title":"c/m","values":[0,0.02,0.04,0.06,0.08,0.1],"format":".4~g"}},
"y":{"field":"y","type":"quantitative","scale":{"domain":[0,500],"nice":false,"zero":false},"axis":{"orient":"left","title":"Time (s)","values":[0,50,100,150,200,250,300,350,400,450,500],"format":".4~g"}},
"stroke":{"field":"s","type":"nominal","scale":{"domain":["SSA","SSU","MA","MU","SA","SU"],"range":["#0000ff","#0000ff","#ff00ff","#ff00ff","#00ff00","#00ff00"]},"legend":null},
"strokeDash":{"field":"s","type":"nominal","scale":{"domain":["SU","MU","SSU","SA","MA","SSA"],"range":[[1,0],[1,0],[1,0],[6,3,1.5,3],[1.5,2.5],[6,3.5]]},"legend":null}}},
{"transform":[{"filter":"datum.s=='SA'"}],"mark":{"type":"point","shape":"circle","size":40,"filled":true,"fill":"white","stroke":"#00ff00","strokeWidth":1.3,"opacity":1},"encoding":{"x":{"field":"x","type":"quantitative","axis":null},"y":{"field":"y","type":"quantitative","axis":null}}},
{"transform":[{"filter":"datum.s=='MA'"}],"mark":{"type":"square","size":18,"color":"#ff00ff","opacity":1},"encoding":{"x":{"field":"x","type":"quantitative","axis":null},"y":{"field":"y","type":"quantitative","axis":null}}},
{"transform":[{"filter":"datum.s=='SSA'"}],"mark":{"type":"point","shape":"triangle-up","size":70,"filled":true,"color":"#0000ff","opacity":1},"encoding":{"x":{"field":"x","type":"quantitative","axis":null},"y":{"field":"y","type":"quantitative","axis":null}}},
{"transform":[{"filter":"datum.x<-1"}],"mark":{"type":"point","opacity":1,"strokeWidth":1.5},"encoding":{
"x":{"field":"x","type":"quantitative","axis":{"orient":"top","labels":false,"domain":false,"title":"Time","values":[0,0.02,0.04,0.06,0.08,0.1]}},
"y":{"field":"y","type":"quantitative","axis":{"orient":"right","labels":false,"domain":false,"title":null,"values":[0,50,100,150,200,250,300,350,400,450,500]}},
"color":{"field":"s","type":"nominal","scale":{"domain":["SU","SA","MU","MA","SSU","SSA"],"range":["#00ff00","#00ff00","#ff00ff","#ff00ff","#0000ff","#0000ff"]},"legend":{"title":null,"symbolOffset":5,"labelOffset":5,"labelExpr":"datum.label=='SU'?'Standard (uniform sampling)':datum.label=='SA'?'Standard (adaptive sampling)':datum.label=='MU'?'Modified (uniform sampling)':datum.label=='MA'?'Modified (adaptive sampling)':datum.label=='SSU'?'SS (uniform sampling)':'SS (adaptive sampling)'"}},
"shape":{"field":"s","type":"nominal","scale":{"domain":["SU","SA","MU","MA","SSU","SSA"],"range":["M-3.1,0H3.1","M-3.1,0H-2.2M-1.7,0H-0.85M-0.85,-0.35L-0.35,-0.85L0.35,-0.85L0.85,-0.35L0.85,0.35L0.35,0.85L-0.35,0.85L-0.85,0.35ZM0.85,0H1.7M2.2,0H3.1","M-3.1,0H3.1","M-3.1,0H-2.8M-2.4,0H-2.1M-1.7,0H-1.4M-1,0H-0.7M-0.4,-0.4H0.4V0.4H-0.4ZM-0.1,-0.1H0.1V0.1H-0.1ZM0.7,0H1M1.4,0H1.7M2.1,0H2.4M2.8,0H3.1","M-3.1,0H3.1","M-3.1,0H-2.1M-1.6,0H-1M-1,0.8L0,-1L1,0.8ZM-0.62,0.5L0,-0.62L0.62,0.5ZM-0.25,0.2L0,-0.25L0.25,0.2ZM1,0H1.6M2.1,0H3.1"]},"legend":{"title":null,"symbolOffset":5,"labelOffset":5,"labelExpr":"datum.label=='SU'?'Standard (uniform sampling)':datum.label=='SA'?'Standard (adaptive sampling)':datum.label=='MU'?'Modified (uniform sampling)':datum.label=='MA'?'Modified (adaptive sampling)':datum.label=='SSU'?'SS (uniform sampling)':'SS (adaptive sampling)'"}}}}
],
"resolve":{"axis":{"x":"independent","y":"independent"}}},

{"data":{"name":"b"},"width":266,"height":232,"title":{"text":"(b) Wine Quality"},
"layer":[
{"mark":{"type":"line","strokeWidth":1.6},"encoding":{
"x":{"field":"x","type":"quantitative","scale":{"domain":[0,0.2],"nice":false,"zero":false},"axis":{"orient":"bottom","title":"c/m","values":[0,0.05,0.1,0.15,0.2],"format":".4~g"}},
"y":{"field":"y","type":"quantitative","scale":{"domain":[0,50],"nice":false,"zero":false},"axis":{"orient":"left","title":"Time (s)","values":[0,5,10,15,20,25,30,35,40,45,50],"format":".4~g"}},
"stroke":{"field":"s","type":"nominal","scale":{"domain":["SSA","SSU","MA","MU","SA","SU"],"range":["#0000ff","#0000ff","#ff00ff","#ff00ff","#00ff00","#00ff00"]},"legend":null},
"strokeDash":{"field":"s","type":"nominal","scale":{"domain":["SU","MU","SSU","SA","MA","SSA"],"range":[[1,0],[1,0],[1,0],[6,3,1.5,3],[1.5,2.5],[6,3.5]]},"legend":null}}},
{"transform":[{"filter":"datum.s=='SA'"}],"mark":{"type":"point","shape":"circle","size":40,"filled":true,"fill":"white","stroke":"#00ff00","strokeWidth":1.3,"opacity":1},"encoding":{"x":{"field":"x","type":"quantitative","axis":null},"y":{"field":"y","type":"quantitative","axis":null}}},
{"transform":[{"filter":"datum.s=='MA'"}],"mark":{"type":"square","size":18,"color":"#ff00ff","opacity":1},"encoding":{"x":{"field":"x","type":"quantitative","axis":null},"y":{"field":"y","type":"quantitative","axis":null}}},
{"transform":[{"filter":"datum.s=='SSA'"}],"mark":{"type":"point","shape":"triangle-up","size":70,"filled":true,"color":"#0000ff","opacity":1},"encoding":{"x":{"field":"x","type":"quantitative","axis":null},"y":{"field":"y","type":"quantitative","axis":null}}},
{"transform":[{"filter":"datum.x<-1"}],"mark":{"type":"point","opacity":1,"strokeWidth":1.5},"encoding":{
"x":{"field":"x","type":"quantitative","axis":{"orient":"top","labels":false,"domain":false,"title":"Time","values":[0,0.05,0.1,0.15,0.2]}},
"y":{"field":"y","type":"quantitative","axis":{"orient":"right","labels":false,"domain":false,"title":null,"values":[0,5,10,15,20,25,30,35,40,45,50]}},
"color":{"field":"s","type":"nominal","scale":{"domain":["SU","SA","MU","MA","SSU","SSA"],"range":["#00ff00","#00ff00","#ff00ff","#ff00ff","#0000ff","#0000ff"]},"legend":{"title":null,"symbolOffset":5,"labelOffset":5,"labelExpr":"datum.label=='SU'?'Standard (uniform sampling)':datum.label=='SA'?'Standard (adaptive sampling)':datum.label=='MU'?'Modified (uniform sampling)':datum.label=='MA'?'Modified (adaptive sampling)':datum.label=='SSU'?'SS (uniform sampling)':'SS (adaptive sampling)'"}},
"shape":{"field":"s","type":"nominal","scale":{"domain":["SU","SA","MU","MA","SSU","SSA"],"range":["M-3.1,0H3.1","M-3.1,0H-2.2M-1.7,0H-0.85M-0.85,-0.35L-0.35,-0.85L0.35,-0.85L0.85,-0.35L0.85,0.35L0.35,0.85L-0.35,0.85L-0.85,0.35ZM0.85,0H1.7M2.2,0H3.1","M-3.1,0H3.1","M-3.1,0H-2.8M-2.4,0H-2.1M-1.7,0H-1.4M-1,0H-0.7M-0.4,-0.4H0.4V0.4H-0.4ZM-0.1,-0.1H0.1V0.1H-0.1ZM0.7,0H1M1.4,0H1.7M2.1,0H2.4M2.8,0H3.1","M-3.1,0H3.1","M-3.1,0H-2.1M-1.6,0H-1M-1,0.8L0,-1L1,0.8ZM-0.62,0.5L0,-0.62L0.62,0.5ZM-0.25,0.2L0,-0.25L0.25,0.2ZM1,0H1.6M2.1,0H3.1"]},"legend":{"title":null,"symbolOffset":5,"labelOffset":5,"labelExpr":"datum.label=='SU'?'Standard (uniform sampling)':datum.label=='SA'?'Standard (adaptive sampling)':datum.label=='MU'?'Modified (uniform sampling)':datum.label=='MA'?'Modified (adaptive sampling)':datum.label=='SSU'?'SS (uniform sampling)':'SS (adaptive sampling)'"}}}}
],
"resolve":{"axis":{"x":"independent","y":"independent"}}},

{"data":{"name":"c"},"width":266,"height":232,"title":{"text":"(c) Satimage"},
"layer":[
{"mark":{"type":"line","strokeWidth":1.6},"encoding":{
"x":{"field":"x","type":"quantitative","scale":{"domain":[0,0.2],"nice":false,"zero":false},"axis":{"orient":"bottom","title":"c/m","values":[0,0.05,0.1,0.15,0.2],"format":".4~g"}},
"y":{"field":"y","type":"quantitative","scale":{"domain":[0,40],"nice":false,"zero":false},"axis":{"orient":"left","title":"Time (s)","values":[0,5,10,15,20,25,30,35,40],"format":".4~g"}},
"stroke":{"field":"s","type":"nominal","scale":{"domain":["SSA","SSU","MA","MU","SA","SU"],"range":["#0000ff","#0000ff","#ff00ff","#ff00ff","#00ff00","#00ff00"]},"legend":null},
"strokeDash":{"field":"s","type":"nominal","scale":{"domain":["SU","MU","SSU","SA","MA","SSA"],"range":[[1,0],[1,0],[1,0],[6,3,1.5,3],[1.5,2.5],[6,3.5]]},"legend":null}}},
{"transform":[{"filter":"datum.s=='SA'"}],"mark":{"type":"point","shape":"circle","size":40,"filled":true,"fill":"white","stroke":"#00ff00","strokeWidth":1.3,"opacity":1},"encoding":{"x":{"field":"x","type":"quantitative","axis":null},"y":{"field":"y","type":"quantitative","axis":null}}},
{"transform":[{"filter":"datum.s=='MA'"}],"mark":{"type":"square","size":18,"color":"#ff00ff","opacity":1},"encoding":{"x":{"field":"x","type":"quantitative","axis":null},"y":{"field":"y","type":"quantitative","axis":null}}},
{"transform":[{"filter":"datum.s=='SSA'"}],"mark":{"type":"point","shape":"triangle-up","size":70,"filled":true,"color":"#0000ff","opacity":1},"encoding":{"x":{"field":"x","type":"quantitative","axis":null},"y":{"field":"y","type":"quantitative","axis":null}}},
{"transform":[{"filter":"datum.x<-1"}],"mark":{"type":"point","opacity":1,"strokeWidth":1.5},"encoding":{
"x":{"field":"x","type":"quantitative","axis":{"orient":"top","labels":false,"domain":false,"title":"Time","values":[0,0.05,0.1,0.15,0.2]}},
"y":{"field":"y","type":"quantitative","axis":{"orient":"right","labels":false,"domain":false,"title":null,"values":[0,5,10,15,20,25,30,35,40]}},
"color":{"field":"s","type":"nominal","scale":{"domain":["SU","SA","MU","MA","SSU","SSA"],"range":["#00ff00","#00ff00","#ff00ff","#ff00ff","#0000ff","#0000ff"]},"legend":{"title":null,"symbolOffset":5,"labelOffset":5,"labelExpr":"datum.label=='SU'?'Standard (uniform sampling)':datum.label=='SA'?'Standard (adaptive sampling)':datum.label=='MU'?'Modified (uniform sampling)':datum.label=='MA'?'Modified (adaptive sampling)':datum.label=='SSU'?'SS (uniform sampling)':'SS (adaptive sampling)'"}},
"shape":{"field":"s","type":"nominal","scale":{"domain":["SU","SA","MU","MA","SSU","SSA"],"range":["M-3.1,0H3.1","M-3.1,0H-2.2M-1.7,0H-0.85M-0.85,-0.35L-0.35,-0.85L0.35,-0.85L0.85,-0.35L0.85,0.35L0.35,0.85L-0.35,0.85L-0.85,0.35ZM0.85,0H1.7M2.2,0H3.1","M-3.1,0H3.1","M-3.1,0H-2.8M-2.4,0H-2.1M-1.7,0H-1.4M-1,0H-0.7M-0.4,-0.4H0.4V0.4H-0.4ZM-0.1,-0.1H0.1V0.1H-0.1ZM0.7,0H1M1.4,0H1.7M2.1,0H2.4M2.8,0H3.1","M-3.1,0H3.1","M-3.1,0H-2.1M-1.6,0H-1M-1,0.8L0,-1L1,0.8ZM-0.62,0.5L0,-0.62L0.62,0.5ZM-0.25,0.2L0,-0.25L0.25,0.2ZM1,0H1.6M2.1,0H3.1"]},"legend":{"title":null,"symbolOffset":5,"labelOffset":5,"labelExpr":"datum.label=='SU'?'Standard (uniform sampling)':datum.label=='SA'?'Standard (adaptive sampling)':datum.label=='MU'?'Modified (uniform sampling)':datum.label=='MA'?'Modified (adaptive sampling)':datum.label=='SSU'?'SS (uniform sampling)':'SS (adaptive sampling)'"}}}}
],
"resolve":{"axis":{"x":"independent","y":"independent"}}},

{"data":{"name":"d"},"width":266,"height":232,"title":{"text":"(d) Segment"},
"layer":[
{"mark":{"type":"line","strokeWidth":1.6},"encoding":{
"x":{"field":"x","type":"quantitative","scale":{"domain":[0,0.2],"nice":false,"zero":false},"axis":{"orient":"bottom","title":"c/m","values":[0,0.05,0.1,0.15,0.2],"format":".4~g"}},
"y":{"field":"y","type":"quantitative","scale":{"domain":[0,10],"nice":false,"zero":false},"axis":{"orient":"left","title":"Time (s)","values":[0,1,2,3,4,5,6,7,8,9,10],"format":".4~g"}},
"stroke":{"field":"s","type":"nominal","scale":{"domain":["SSA","SSU","MA","MU","SA","SU"],"range":["#0000ff","#0000ff","#ff00ff","#ff00ff","#00ff00","#00ff00"]},"legend":null},
"strokeDash":{"field":"s","type":"nominal","scale":{"domain":["SU","MU","SSU","SA","MA","SSA"],"range":[[1,0],[1,0],[1,0],[6,3,1.5,3],[1.5,2.5],[6,3.5]]},"legend":null}}},
{"transform":[{"filter":"datum.s=='SA'"}],"mark":{"type":"point","shape":"circle","size":40,"filled":true,"fill":"white","stroke":"#00ff00","strokeWidth":1.3,"opacity":1},"encoding":{"x":{"field":"x","type":"quantitative","axis":null},"y":{"field":"y","type":"quantitative","axis":null}}},
{"transform":[{"filter":"datum.s=='MA'"}],"mark":{"type":"square","size":18,"color":"#ff00ff","opacity":1},"encoding":{"x":{"field":"x","type":"quantitative","axis":null},"y":{"field":"y","type":"quantitative","axis":null}}},
{"transform":[{"filter":"datum.s=='SSA'"}],"mark":{"type":"point","shape":"triangle-up","size":70,"filled":true,"color":"#0000ff","opacity":1},"encoding":{"x":{"field":"x","type":"quantitative","axis":null},"y":{"field":"y","type":"quantitative","axis":null}}},
{"transform":[{"filter":"datum.x<-1"}],"mark":{"type":"point","opacity":1,"strokeWidth":1.5},"encoding":{
"x":{"field":"x","type":"quantitative","axis":{"orient":"top","labels":false,"domain":false,"title":"Time","values":[0,0.05,0.1,0.15,0.2]}},
"y":{"field":"y","type":"quantitative","axis":{"orient":"right","labels":false,"domain":false,"title":null,"values":[0,1,2,3,4,5,6,7,8,9,10]}},
"color":{"field":"s","type":"nominal","scale":{"domain":["SU","SA","MU","MA","SSU","SSA"],"range":["#00ff00","#00ff00","#ff00ff","#ff00ff","#0000ff","#0000ff"]},"legend":{"title":null,"symbolOffset":5,"labelOffset":5,"labelExpr":"datum.label=='SU'?'Standard (uniform sampling)':datum.label=='SA'?'Standard (adaptive sampling)':datum.label=='MU'?'Modified (uniform sampling)':datum.label=='MA'?'Modified (adaptive sampling)':datum.label=='SSU'?'SS (uniform sampling)':'SS (adaptive sampling)'"}},
"shape":{"field":"s","type":"nominal","scale":{"domain":["SU","SA","MU","MA","SSU","SSA"],"range":["M-3.1,0H3.1","M-3.1,0H-2.2M-1.7,0H-0.85M-0.85,-0.35L-0.35,-0.85L0.35,-0.85L0.85,-0.35L0.85,0.35L0.35,0.85L-0.35,0.85L-0.85,0.35ZM0.85,0H1.7M2.2,0H3.1","M-3.1,0H3.1","M-3.1,0H-2.8M-2.4,0H-2.1M-1.7,0H-1.4M-1,0H-0.7M-0.4,-0.4H0.4V0.4H-0.4ZM-0.1,-0.1H0.1V0.1H-0.1ZM0.7,0H1M1.4,0H1.7M2.1,0H2.4M2.8,0H3.1","M-3.1,0H3.1","M-3.1,0H-2.1M-1.6,0H-1M-1,0.8L0,-1L1,0.8ZM-0.62,0.5L0,-0.62L0.62,0.5ZM-0.25,0.2L0,-0.25L0.25,0.2ZM1,0H1.6M2.1,0H3.1"]},"legend":{"title":null,"symbolOffset":5,"labelOffset":5,"labelExpr":"datum.label=='SU'?'Standard (uniform sampling)':datum.label=='SA'?'Standard (adaptive sampling)':datum.label=='MU'?'Modified (uniform sampling)':datum.label=='MA'?'Modified (adaptive sampling)':datum.label=='SSU'?'SS (uniform sampling)':'SS (adaptive sampling)'"}}}}
],
"resolve":{"axis":{"x":"independent","y":"independent"}}},

{"data":{"name":"e"},"width":266,"height":232,"title":{"text":"(e) DNA"},
"layer":[
{"mark":{"type":"line","strokeWidth":1.6},"encoding":{
"x":{"field":"x","type":"quantitative","scale":{"domain":[0.05,0.2],"nice":false,"zero":false},"axis":{"orient":"bottom","title":"c/m","values":[0.05,0.1,0.15,0.2],"format":".4~g"}},
"y":{"field":"y","type":"quantitative","scale":{"domain":[0,300],"nice":false,"zero":false},"axis":{"orient":"left","title":"Time (s)","values":[0,50,100,150,200,250,300],"format":".4~g"}},
"stroke":{"field":"s","type":"nominal","scale":{"domain":["SSA","SSU","MA","MU","SA","SU"],"range":["#0000ff","#0000ff","#ff00ff","#ff00ff","#00ff00","#00ff00"]},"legend":null},
"strokeDash":{"field":"s","type":"nominal","scale":{"domain":["SU","MU","SSU","SA","MA","SSA"],"range":[[1,0],[1,0],[1,0],[6,3,1.5,3],[1.5,2.5],[6,3.5]]},"legend":null}}},
{"transform":[{"filter":"datum.s=='SA'"}],"mark":{"type":"point","shape":"circle","size":40,"filled":true,"fill":"white","stroke":"#00ff00","strokeWidth":1.3,"opacity":1},"encoding":{"x":{"field":"x","type":"quantitative","axis":null},"y":{"field":"y","type":"quantitative","axis":null}}},
{"transform":[{"filter":"datum.s=='MA'"}],"mark":{"type":"square","size":18,"color":"#ff00ff","opacity":1},"encoding":{"x":{"field":"x","type":"quantitative","axis":null},"y":{"field":"y","type":"quantitative","axis":null}}},
{"transform":[{"filter":"datum.s=='SSA'"}],"mark":{"type":"point","shape":"triangle-up","size":70,"filled":true,"color":"#0000ff","opacity":1},"encoding":{"x":{"field":"x","type":"quantitative","axis":null},"y":{"field":"y","type":"quantitative","axis":null}}},
{"transform":[{"filter":"datum.x<-1"}],"mark":{"type":"point","opacity":1,"strokeWidth":1.5},"encoding":{
"x":{"field":"x","type":"quantitative","axis":{"orient":"top","labels":false,"domain":false,"title":"Time","values":[0.05,0.1,0.15,0.2]}},
"y":{"field":"y","type":"quantitative","axis":{"orient":"right","labels":false,"domain":false,"title":null,"values":[0,50,100,150,200,250,300]}},
"color":{"field":"s","type":"nominal","scale":{"domain":["SU","SA","MU","MA","SSU","SSA"],"range":["#00ff00","#00ff00","#ff00ff","#ff00ff","#0000ff","#0000ff"]},"legend":{"title":null,"symbolOffset":5,"labelOffset":5,"labelExpr":"datum.label=='SU'?'Standard (uniform sampling)':datum.label=='SA'?'Standard (adaptive sampling)':datum.label=='MU'?'Modified (uniform sampling)':datum.label=='MA'?'Modified (adaptive sampling)':datum.label=='SSU'?'SS (uniform sampling)':'SS (adaptive sampling)'"}},
"shape":{"field":"s","type":"nominal","scale":{"domain":["SU","SA","MU","MA","SSU","SSA"],"range":["M-3.1,0H3.1","M-3.1,0H-2.2M-1.7,0H-0.85M-0.85,-0.35L-0.35,-0.85L0.35,-0.85L0.85,-0.35L0.85,0.35L0.35,0.85L-0.35,0.85L-0.85,0.35ZM0.85,0H1.7M2.2,0H3.1","M-3.1,0H3.1","M-3.1,0H-2.8M-2.4,0H-2.1M-1.7,0H-1.4M-1,0H-0.7M-0.4,-0.4H0.4V0.4H-0.4ZM-0.1,-0.1H0.1V0.1H-0.1ZM0.7,0H1M1.4,0H1.7M2.1,0H2.4M2.8,0H3.1","M-3.1,0H3.1","M-3.1,0H-2.1M-1.6,0H-1M-1,0.8L0,-1L1,0.8ZM-0.62,0.5L0,-0.62L0.62,0.5ZM-0.25,0.2L0,-0.25L0.25,0.2ZM1,0H1.6M2.1,0H3.1"]},"legend":{"title":null,"symbolOffset":5,"labelOffset":5,"labelExpr":"datum.label=='SU'?'Standard (uniform sampling)':datum.label=='SA'?'Standard (adaptive sampling)':datum.label=='MU'?'Modified (uniform sampling)':datum.label=='MA'?'Modified (adaptive sampling)':datum.label=='SSU'?'SS (uniform sampling)':'SS (adaptive sampling)'"}}}}
],
"resolve":{"axis":{"x":"independent","y":"independent"}}},

{"data":{"name":"f"},"width":266,"height":232,"title":{"text":"(f) German"},
"layer":[
{"mark":{"type":"line","strokeWidth":1.6},"encoding":{
"x":{"field":"x","type":"quantitative","scale":{"domain":[0,0.2],"nice":false,"zero":false},"axis":{"orient":"bottom","title":"c/m","values":[0,0.05,0.1,0.15,0.2],"format":".4~g"}},
"y":{"field":"y","type":"quantitative","scale":{"domain":[0,1.6],"nice":false,"zero":false},"axis":{"orient":"left","title":"Time (s)","values":[0,0.2,0.4,0.6,0.8,1,1.2,1.4,1.6],"format":".4~g"}},
"stroke":{"field":"s","type":"nominal","scale":{"domain":["SSA","SSU","MA","MU","SA","SU"],"range":["#0000ff","#0000ff","#ff00ff","#ff00ff","#00ff00","#00ff00"]},"legend":null},
"strokeDash":{"field":"s","type":"nominal","scale":{"domain":["SU","MU","SSU","SA","MA","SSA"],"range":[[1,0],[1,0],[1,0],[6,3,1.5,3],[1.5,2.5],[6,3.5]]},"legend":null}}},
{"transform":[{"filter":"datum.s=='SA'"}],"mark":{"type":"point","shape":"circle","size":40,"filled":true,"fill":"white","stroke":"#00ff00","strokeWidth":1.3,"opacity":1},"encoding":{"x":{"field":"x","type":"quantitative","axis":null},"y":{"field":"y","type":"quantitative","axis":null}}},
{"transform":[{"filter":"datum.s=='MA'"}],"mark":{"type":"square","size":18,"color":"#ff00ff","opacity":1},"encoding":{"x":{"field":"x","type":"quantitative","axis":null},"y":{"field":"y","type":"quantitative","axis":null}}},
{"transform":[{"filter":"datum.s=='SSA'"}],"mark":{"type":"point","shape":"triangle-up","size":70,"filled":true,"color":"#0000ff","opacity":1},"encoding":{"x":{"field":"x","type":"quantitative","axis":null},"y":{"field":"y","type":"quantitative","axis":null}}},
{"transform":[{"filter":"datum.x<-1"}],"mark":{"type":"point","opacity":1,"strokeWidth":1.5},"encoding":{
"x":{"field":"x","type":"quantitative","axis":{"orient":"top","labels":false,"domain":false,"title":"Time","values":[0,0.05,0.1,0.15,0.2]}},
"y":{"field":"y","type":"quantitative","axis":{"orient":"right","labels":false,"domain":false,"title":null,"values":[0,0.2,0.4,0.6,0.8,1,1.2,1.4,1.6]}},
"color":{"field":"s","type":"nominal","scale":{"domain":["SU","SA","MU","MA","SSU","SSA"],"range":["#00ff00","#00ff00","#ff00ff","#ff00ff","#0000ff","#0000ff"]},"legend":{"title":null,"orient":"none","legendX":98,"legendY":25,"symbolOffset":5,"labelOffset":5,"labelExpr":"datum.label=='SU'?'Standard (uniform sampling)':datum.label=='SA'?'Standard (adaptive sampling)':datum.label=='MU'?'Modified (uniform sampling)':datum.label=='MA'?'Modified (adaptive sampling)':datum.label=='SSU'?'SS (uniform sampling)':'SS (adaptive sampling)'"}},
"shape":{"field":"s","type":"nominal","scale":{"domain":["SU","SA","MU","MA","SSU","SSA"],"range":["M-3.1,0H3.1","M-3.1,0H-2.2M-1.7,0H-0.85M-0.85,-0.35L-0.35,-0.85L0.35,-0.85L0.85,-0.35L0.85,0.35L0.35,0.85L-0.35,0.85L-0.85,0.35ZM0.85,0H1.7M2.2,0H3.1","M-3.1,0H3.1","M-3.1,0H-2.8M-2.4,0H-2.1M-1.7,0H-1.4M-1,0H-0.7M-0.4,-0.4H0.4V0.4H-0.4ZM-0.1,-0.1H0.1V0.1H-0.1ZM0.7,0H1M1.4,0H1.7M2.1,0H2.4M2.8,0H3.1","M-3.1,0H3.1","M-3.1,0H-2.1M-1.6,0H-1M-1,0.8L0,-1L1,0.8ZM-0.62,0.5L0,-0.62L0.62,0.5ZM-0.25,0.2L0,-0.25L0.25,0.2ZM1,0H1.6M2.1,0H3.1"]},"legend":{"title":null,"orient":"none","legendX":98,"legendY":25,"symbolOffset":5,"labelOffset":5,"labelExpr":"datum.label=='SU'?'Standard (uniform sampling)':datum.label=='SA'?'Standard (adaptive sampling)':datum.label=='MU'?'Modified (uniform sampling)':datum.label=='MA'?'Modified (adaptive sampling)':datum.label=='SSU'?'SS (uniform sampling)':'SS (adaptive sampling)'"}}}}
],
"resolve":{"axis":{"x":"independent","y":"independent"}}},

{"data":{"name":"g"},"width":266,"height":232,"title":{"text":"(g) Splice"},
"layer":[
{"mark":{"type":"line","strokeWidth":1.6},"encoding":{
"x":{"field":"x","type":"quantitative","scale":{"domain":[0,0.2],"nice":false,"zero":false},"axis":{"orient":"bottom","title":"c/m","values":[0,0.05,0.1,0.15,0.2],"format":".4~g"}},
"y":{"field":"y","type":"quantitative","scale":{"domain":[0,55],"nice":false,"zero":false},"axis":{"orient":"left","title":"Time (s)","values":[0,5,10,15,20,25,30,35,40,45,50,55],"format":".4~g"}},
"stroke":{"field":"s","type":"nominal","scale":{"domain":["SSA","SSU","MA","MU","SA","SU"],"range":["#0000ff","#0000ff","#ff00ff","#ff00ff","#00ff00","#00ff00"]},"legend":null},
"strokeDash":{"field":"s","type":"nominal","scale":{"domain":["SU","MU","SSU","SA","MA","SSA"],"range":[[1,0],[1,0],[1,0],[6,3,1.5,3],[1.5,2.5],[6,3.5]]},"legend":null}}},
{"transform":[{"filter":"datum.s=='SA'"}],"mark":{"type":"point","shape":"circle","size":40,"filled":true,"fill":"white","stroke":"#00ff00","strokeWidth":1.3,"opacity":1},"encoding":{"x":{"field":"x","type":"quantitative","axis":null},"y":{"field":"y","type":"quantitative","axis":null}}},
{"transform":[{"filter":"datum.s=='MA'"}],"mark":{"type":"square","size":18,"color":"#ff00ff","opacity":1},"encoding":{"x":{"field":"x","type":"quantitative","axis":null},"y":{"field":"y","type":"quantitative","axis":null}}},
{"transform":[{"filter":"datum.s=='SSA'"}],"mark":{"type":"point","shape":"triangle-up","size":70,"filled":true,"color":"#0000ff","opacity":1},"encoding":{"x":{"field":"x","type":"quantitative","axis":null},"y":{"field":"y","type":"quantitative","axis":null}}},
{"transform":[{"filter":"datum.x<-1"}],"mark":{"type":"point","opacity":1,"strokeWidth":1.5},"encoding":{
"x":{"field":"x","type":"quantitative","axis":{"orient":"top","labels":false,"domain":false,"title":"Time","values":[0,0.05,0.1,0.15,0.2]}},
"y":{"field":"y","type":"quantitative","axis":{"orient":"right","labels":false,"domain":false,"title":null,"values":[0,5,10,15,20,25,30,35,40,45,50,55]}},
"color":{"field":"s","type":"nominal","scale":{"domain":["SU","SA","MU","MA","SSU","SSA"],"range":["#00ff00","#00ff00","#ff00ff","#ff00ff","#0000ff","#0000ff"]},"legend":{"title":null,"symbolOffset":5,"labelOffset":5,"labelExpr":"datum.label=='SU'?'Standard (uniform sampling)':datum.label=='SA'?'Standard (adaptive sampling)':datum.label=='MU'?'Modified (uniform sampling)':datum.label=='MA'?'Modified (adaptive sampling)':datum.label=='SSU'?'SS (uniform sampling)':'SS (adaptive sampling)'"}},
"shape":{"field":"s","type":"nominal","scale":{"domain":["SU","SA","MU","MA","SSU","SSA"],"range":["M-3.1,0H3.1","M-3.1,0H-2.2M-1.7,0H-0.85M-0.85,-0.35L-0.35,-0.85L0.35,-0.85L0.85,-0.35L0.85,0.35L0.35,0.85L-0.35,0.85L-0.85,0.35ZM0.85,0H1.7M2.2,0H3.1","M-3.1,0H3.1","M-3.1,0H-2.8M-2.4,0H-2.1M-1.7,0H-1.4M-1,0H-0.7M-0.4,-0.4H0.4V0.4H-0.4ZM-0.1,-0.1H0.1V0.1H-0.1ZM0.7,0H1M1.4,0H1.7M2.1,0H2.4M2.8,0H3.1","M-3.1,0H3.1","M-3.1,0H-2.1M-1.6,0H-1M-1,0.8L0,-1L1,0.8ZM-0.62,0.5L0,-0.62L0.62,0.5ZM-0.25,0.2L0,-0.25L0.25,0.2ZM1,0H1.6M2.1,0H3.1"]},"legend":{"title":null,"symbolOffset":5,"labelOffset":5,"labelExpr":"datum.label=='SU'?'Standard (uniform sampling)':datum.label=='SA'?'Standard (adaptive sampling)':datum.label=='MU'?'Modified (uniform sampling)':datum.label=='MA'?'Modified (adaptive sampling)':datum.label=='SSU'?'SS (uniform sampling)':'SS (adaptive sampling)'"}}}}
],
"resolve":{"axis":{"x":"independent","y":"independent"}}},

{"data":{"name":"h"},"width":266,"height":232,"title":{"text":"(h) Breast Cancer"},
"layer":[
{"mark":{"type":"line","strokeWidth":1.6},"encoding":{
"x":{"field":"x","type":"quantitative","scale":{"domain":[0.025,0.2],"nice":false,"zero":false},"axis":{"orient":"bottom","title":"c/m","values":[0.025,0.05,0.075,0.1,0.125,0.15,0.175,0.2],"format":".4~g"}},
"y":{"field":"y","type":"quantitative","scale":{"domain":[0,1.6],"nice":false,"zero":false},"axis":{"orient":"left","title":"Time (s)","values":[0,0.2,0.4,0.6,0.8,1,1.2,1.4,1.6],"format":".4~g"}},
"stroke":{"field":"s","type":"nominal","scale":{"domain":["SSA","SSU","MA","MU","SA","SU"],"range":["#0000ff","#0000ff","#ff00ff","#ff00ff","#00ff00","#00ff00"]},"legend":null},
"strokeDash":{"field":"s","type":"nominal","scale":{"domain":["SU","MU","SSU","SA","MA","SSA"],"range":[[1,0],[1,0],[1,0],[6,3,1.5,3],[1.5,2.5],[6,3.5]]},"legend":null}}},
{"transform":[{"filter":"datum.s=='SA' && datum.x<0.199"}],"mark":{"type":"point","shape":"circle","size":40,"filled":true,"fill":"white","stroke":"#00ff00","strokeWidth":1.3,"opacity":1},"encoding":{"x":{"field":"x","type":"quantitative","axis":null},"y":{"field":"y","type":"quantitative","axis":null}}},
{"transform":[{"filter":"datum.s=='MA' && datum.x<0.199"}],"mark":{"type":"square","size":18,"color":"#ff00ff","opacity":1},"encoding":{"x":{"field":"x","type":"quantitative","axis":null},"y":{"field":"y","type":"quantitative","axis":null}}},
{"transform":[{"filter":"datum.s=='SSA' && datum.x<0.199"}],"mark":{"type":"point","shape":"triangle-up","size":70,"filled":true,"color":"#0000ff","opacity":1},"encoding":{"x":{"field":"x","type":"quantitative","axis":null},"y":{"field":"y","type":"quantitative","axis":null}}},
{"transform":[{"filter":"datum.x<-1"}],"mark":{"type":"point","opacity":1,"strokeWidth":1.5},"encoding":{
"x":{"field":"x","type":"quantitative","axis":{"orient":"top","labels":false,"domain":false,"title":"Time","values":[0.025,0.05,0.075,0.1,0.125,0.15,0.175,0.2]}},
"y":{"field":"y","type":"quantitative","axis":{"orient":"right","labels":false,"domain":false,"title":null,"values":[0,0.2,0.4,0.6,0.8,1,1.2,1.4,1.6]}},
"color":{"field":"s","type":"nominal","scale":{"domain":["SU","SA","MU","MA","SSU","SSA"],"range":["#00ff00","#00ff00","#ff00ff","#ff00ff","#0000ff","#0000ff"]},"legend":{"title":null,"symbolOffset":5,"labelOffset":5,"labelExpr":"datum.label=='SU'?'Standard (uniform sampling)':datum.label=='SA'?'Standard (adaptive sampling)':datum.label=='MU'?'Modified (uniform sampling)':datum.label=='MA'?'Modified (adaptive sampling)':datum.label=='SSU'?'SS (uniform sampling)':'SS (adaptive sampling)'"}},
"shape":{"field":"s","type":"nominal","scale":{"domain":["SU","SA","MU","MA","SSU","SSA"],"range":["M-3.1,0H3.1","M-3.1,0H-2.2M-1.7,0H-0.85M-0.85,-0.35L-0.35,-0.85L0.35,-0.85L0.85,-0.35L0.85,0.35L0.35,0.85L-0.35,0.85L-0.85,0.35ZM0.85,0H1.7M2.2,0H3.1","M-3.1,0H3.1","M-3.1,0H-2.8M-2.4,0H-2.1M-1.7,0H-1.4M-1,0H-0.7M-0.4,-0.4H0.4V0.4H-0.4ZM-0.1,-0.1H0.1V0.1H-0.1ZM0.7,0H1M1.4,0H1.7M2.1,0H2.4M2.8,0H3.1","M-3.1,0H3.1","M-3.1,0H-2.1M-1.6,0H-1M-1,0.8L0,-1L1,0.8ZM-0.62,0.5L0,-0.62L0.62,0.5ZM-0.25,0.2L0,-0.25L0.25,0.2ZM1,0H1.6M2.1,0H3.1"]},"legend":{"title":null,"symbolOffset":5,"labelOffset":5,"labelExpr":"datum.label=='SU'?'Standard (uniform sampling)':datum.label=='SA'?'Standard (adaptive sampling)':datum.label=='MU'?'Modified (uniform sampling)':datum.label=='MA'?'Modified (adaptive sampling)':datum.label=='SSU'?'SS (uniform sampling)':'SS (adaptive sampling)'"}}}}
],
"resolve":{"axis":{"x":"independent","y":"independent"}}}
],
"config":{
"font":"Liberation Sans",
"view":{"stroke":"black","strokeWidth":1},
"axis":{"grid":false,"domainColor":"black","domainWidth":1,"tickColor":"black","tickSize":-4,"tickWidth":1,"labelColor":"black","labelFont":"Liberation Sans","labelFontSize":10.5,"labelFlush":false,"labelOverlap":false,"labelPadding":4.5,"titleFont":"Liberation Sans","titleFontSize":15,"titleFontWeight":"normal","titleColor":"black"},
"axisBottom":{"titlePadding":6},
"axisLeft":{"titlePadding":5,"labelPadding":5},
"axisTop":{"titlePadding":8},
"legend":{"orient":"top-left","offset":0,"fillColor":"white","strokeColor":"black","padding":3,"rowPadding":3,"labelFont":"Liberation Sans","labelFontSize":10.5,"labelColor":"black","symbolSize":64,"symbolStrokeWidth":1.5},
"title":{"font":"Liberation Serif","fontSize":23,"fontWeight":"normal","color":"black","orient":"bottom","frame":"bounds","offset":8}
}
}
